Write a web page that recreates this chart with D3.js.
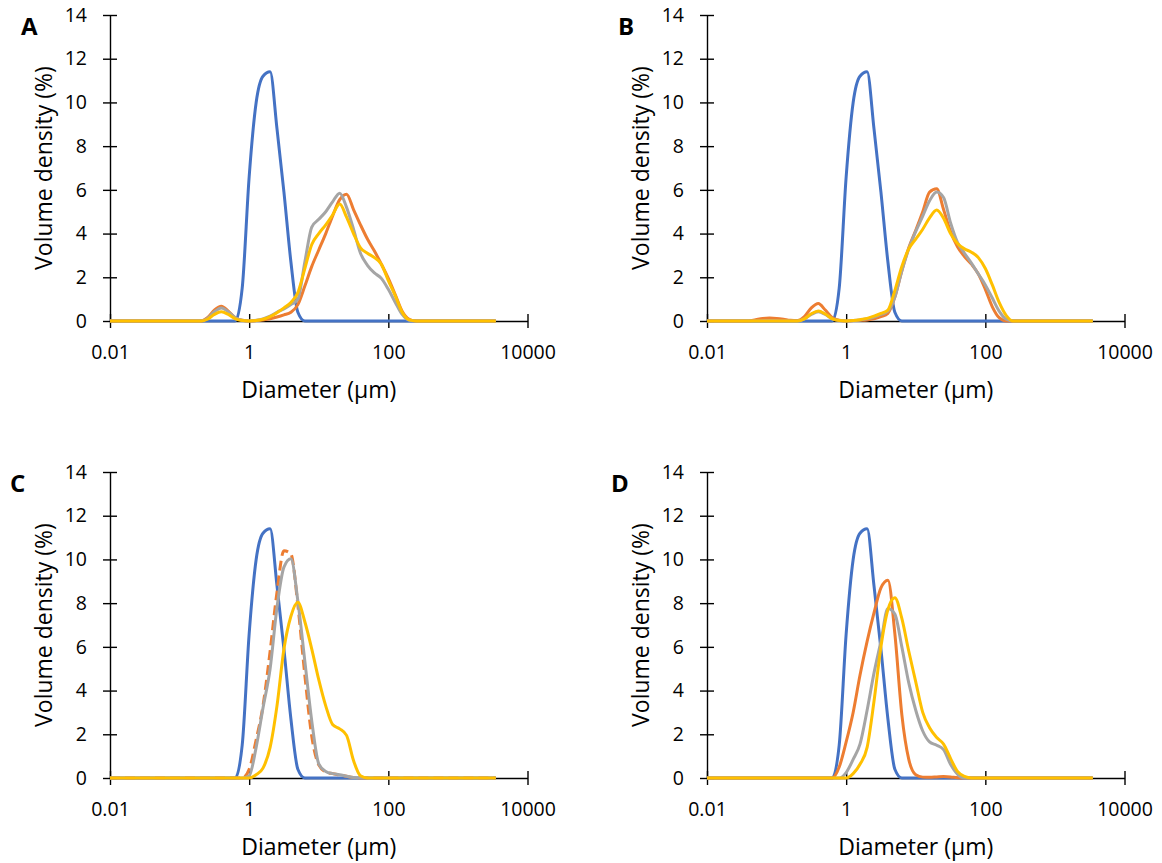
<!DOCTYPE html>
<html>
  <head>
    <meta charset="utf-8">
    <title>Particle size distributions</title>
    <script src="https://d3js.org/d3.v7.min.js" charset="utf-8"></script>
    <style>
      body {
        margin: 0;
        background: #fff;
      }
      text {
        font-family: "Open Sans", sans-serif;
        fill: #000;
      }
    </style>
  </head>
  <body>
    <script type="text/javascript">
      // particle diameters (µm), 10 bins per decade
      var sizes = [0.01, 0.0126, 0.0158, 0.02, 0.0251, 0.0316, 0.0398, 0.0501, 0.0631, 0.0794,
                   0.1, 0.126, 0.158, 0.2, 0.251, 0.316, 0.398, 0.501, 0.631, 0.794,
                   1, 1.26, 1.58, 2, 2.51, 3.16, 3.98, 5.01, 6.31, 7.94,
                   10, 12.6, 15.8, 20, 25.1, 31.6, 39.8, 50.1, 63.1, 79.4,
                   100, 126, 158, 200, 251, 316, 398, 501, 631, 794,
                   1000, 1259, 1585, 1995, 2512, 3162, 3500];

      var xTicks = [0.01, 1, 100, 10000],
          xLabels = ["0.01", "1", "100", "10000"],
          yTicks = [0, 2, 4, 6, 8, 10, 12, 14];

      // volume density (%) per bin
      var refBlue = [0,0,0,0,0,0,0,0,0,0,
                     0,0,0,0,0,0,0,0,0,1.5,
                     6.6,10.0,11.2,11.4,8.8,5.9,2.7,0.4,0,0,
                     0,0,0,0,0,0,0,0,0,0,
                     0,0,0,0,0,0,0,0,0,0,
                     0,0,0,0,0,0,0];

      var aOrange = [0,0,0,0,0,0,0,0,0,0,
                     0,0,0,0,0.15,0.5,0.68,0.45,0.15,0.03,
                     0,0.02,0.05,0.1,0.18,0.28,0.4,0.75,1.6,2.5,
                     3.25,4.0,4.8,5.55,5.8,5.1,4.4,3.75,3.2,2.6,
                     1.95,1.2,0.45,0.08,0,0,0,0,0,0,
                     0,0,0,0,0,0,0];
      var aGray = [0,0,0,0,0,0,0,0,0,0,
                   0,0,0,0,0.12,0.42,0.6,0.42,0.15,0.03,
                   0,0.03,0.1,0.22,0.4,0.55,0.75,1.0,2.7,4.3,
                   4.65,5.0,5.45,5.85,5.2,4.2,3.1,2.55,2.2,1.95,
                   1.45,0.85,0.3,0.03,0,0,0,0,0,0,
                   0,0,0,0,0,0,0];
      var aYellow = [0,0,0,0,0,0,0,0,0,0,
                     0,0,0,0,0.08,0.3,0.42,0.3,0.1,0.02,
                     0,0.02,0.08,0.2,0.38,0.6,0.85,1.3,2.4,3.5,
                     4.0,4.4,4.85,5.35,4.75,4.0,3.35,3.1,2.9,2.6,
                     1.85,1.15,0.4,0.05,0,0,0,0,0,0,
                     0,0,0,0,0,0,0];

      var bOrange = [0,0,0,0,0,0,0,0.06,0.12,0.14,
                     0.12,0.08,0.03,0.02,0.2,0.6,0.8,0.5,0.15,0.03,
                     0,0.02,0.03,0.05,0.1,0.2,0.35,1.1,2.3,3.35,
                     4.15,5.0,5.9,6.05,5.1,4.1,3.4,2.95,2.6,2.15,
                     1.45,0.65,0.15,0,0,0,0,0,0,0,
                     0,0,0,0,0,0,0];
      var bGray = [0,0,0,0,0,0,0,0,0,0,
                   0,0,0,0,0.1,0.3,0.42,0.3,0.1,0.02,
                   0,0.02,0.05,0.1,0.18,0.3,0.45,1.1,2.3,3.3,
                   4.1,4.8,5.5,5.9,5.65,4.5,3.6,3.1,2.65,2.15,
                   1.65,1.05,0.45,0.08,0,0,0,0,0,0,
                   0,0,0,0,0,0,0];
      var bYellow = [0,0,0,0,0,0,0,0,0,0,
                     0,0,0,0,0.1,0.33,0.46,0.32,0.1,0.02,
                     0,0.02,0.06,0.12,0.22,0.35,0.5,1.4,2.5,3.3,
                     3.75,4.2,4.72,5.08,4.7,4.0,3.55,3.3,3.15,2.9,
                     2.4,1.65,0.85,0.25,0,0,0,0,0,0,
                     0,0,0,0,0,0,0];

      var cOrange = [0,0,0,0,0,0,0,0,0,0,
                     0,0,0,0,0,0,0,0,0,0,
                     0.4,1.75,3.3,5.8,8.5,10.4,10.25,7.9,4.7,1.9,
                     0.6,0.28,0.2,0.14,0.08,0.02,0,0,0,0,
                     0,0,0,0,0,0,0,0,0,0,
                     0,0,0,0,0,0,0];
      var cGray = [0,0,0,0,0,0,0,0,0,0,
                   0,0,0,0,0,0,0,0,0,0,
                   0.1,1.4,3.2,5.0,7.8,9.65,10.03,8.1,5.35,2.6,
                   0.65,0.3,0.2,0.15,0.08,0.02,0,0,0,0,
                   0,0,0,0,0,0,0,0,0,0,
                   0,0,0,0,0,0,0];
      var cYellow = [0,0,0,0,0,0,0,0,0,0,
                     0,0,0,0,0,0,0,0,0,0,
                     0,0.15,0.45,1.4,3.3,5.9,7.4,8.04,7.15,5.9,
                     4.5,3.3,2.45,2.25,1.95,0.8,0.1,0,0,0,
                     0,0,0,0,0,0,0,0,0,0,
                     0,0,0,0,0,0,0];

      var dOrange = [0,0,0,0,0,0,0,0,0,0,
                     0,0,0,0,0,0,0,0,0,0.5,
                     1.65,3.0,4.7,6.25,7.55,8.7,9.05,6.6,2.9,0.85,
                     0.15,0.04,0.03,0.05,0.07,0.05,0.01,0,0,0,
                     0,0,0,0,0,0,0,0,0,0,
                     0,0,0,0,0,0,0];
      var dGray = [0,0,0,0,0,0,0,0,0,0,
                   0,0,0,0,0,0,0,0,0,0,
                   0.25,0.85,1.55,3.1,4.8,6.25,7.75,7.5,6.0,4.35,
                   3.1,2.15,1.65,1.5,1.3,0.63,0.18,0,0,0,
                   0,0,0,0,0,0,0,0,0,0,
                   0,0,0,0,0,0,0];
      var dYellow = [0,0,0,0,0,0,0,0,0,0,
                     0,0,0,0,0,0,0,0,0,0,
                     0,0.2,0.63,1.4,3.5,6.0,7.7,8.25,7.3,5.8,
                     4.4,3.0,2.3,1.85,1.55,0.9,0.3,0.07,0,0,
                     0,0,0,0,0,0,0,0,0,0,
                     0,0,0,0,0,0,0];

      var colors = ["#4472C4", "#ED7D31", "#A5A5A5", "#FFC000"];

      var panels = [
        { label: "A", col: 0, row: 0, lx: 21, series: [refBlue, aOrange, aGray, aYellow], dashed: -1 },
        { label: "B", col: 1, row: 0, lx: 618, series: [refBlue, bOrange, bGray, bYellow], dashed: -1 },
        { label: "C", col: 0, row: 1, lx: 10, series: [refBlue, cOrange, cGray, cYellow], dashed: 1 },
        { label: "D", col: 1, row: 1, lx: 611, series: [refBlue, dOrange, dGray, dYellow], dashed: -1 }
      ];

      var lefts = [110, 707],
          tops = [15, 472],
          width = 417.5,
          height = 306;

      var svg = d3.select("body").append("svg")
                  .attr("width", 1162)
                  .attr("height", 863);

      panels.forEach(function (p) {
        var left = lefts[p.col], top = tops[p.row];

        var x = d3.scaleLog().domain([0.01, 10000]).range([0, width]);
        var y = d3.scaleLinear().domain([0, 14]).range([height, 0]);

        var g = svg.append("g").attr("transform", "translate(" + left + "," + top + ")");

        // panel letter
        svg.append("text")
           .attr("x", p.lx)
           .attr("y", top + 20)
           .attr("font-size", 24)
           .attr("font-weight", "bold")
           .text(p.label);

        // y axis with crossing ticks
        var ya = g.append("g")
                  .call(d3.axisLeft(y).tickValues(yTicks).tickSize(7).tickSizeOuter(0).tickPadding(16));
        ya.selectAll(".tick line").attr("x1", 7);
        ya.selectAll("line, path").attr("stroke", "#000").attr("stroke-width", 1.4);
        ya.selectAll("text").attr("font-size", 19.5).attr("font-family", "Open Sans, sans-serif").attr("fill", "#000");

        // x axis with crossing ticks
        var xa = g.append("g")
                  .attr("transform", "translate(0," + height + ")")
                  .call(d3.axisBottom(x).tickValues(xTicks)
                          .tickFormat(function (d, i) { return xLabels[i]; })
                          .tickSize(7).tickSizeOuter(0).tickPadding(17));
        xa.selectAll(".tick line").attr("y1", -7);
        xa.selectAll("line, path").attr("stroke", "#000").attr("stroke-width", 1.4);
        xa.selectAll("text").attr("font-size", 19.5).attr("font-family", "Open Sans, sans-serif").attr("fill", "#000");

        // axis titles
        g.append("text")
         .attr("x", width / 2)
         .attr("y", height + 77)
         .attr("text-anchor", "middle")
         .attr("font-size", 23)
         .text("Diameter (µm)");

        g.append("text")
         .attr("transform", "translate(-58," + (height / 2) + ") rotate(-90)")
         .attr("text-anchor", "middle")
         .attr("font-size", 23)
         .text("Volume density (%)");

        // curves
        var line = d3.line()
                     .x(function (d, i) { return x(sizes[i]); })
                     .y(function (d) { return y(d); })
                     .curve(d3.curveMonotoneX);

        p.series.forEach(function (s, k) {
          g.append("path")
           .datum(s)
           .attr("d", line)
           .attr("fill", "none")
           .attr("stroke", colors[k])
           .attr("stroke-width", 3)
           .attr("stroke-linejoin", "round")
           .attr("stroke-dasharray", k === p.dashed ? "10,5" : null);
        });
      });
    </script>
  </body>
</html>
